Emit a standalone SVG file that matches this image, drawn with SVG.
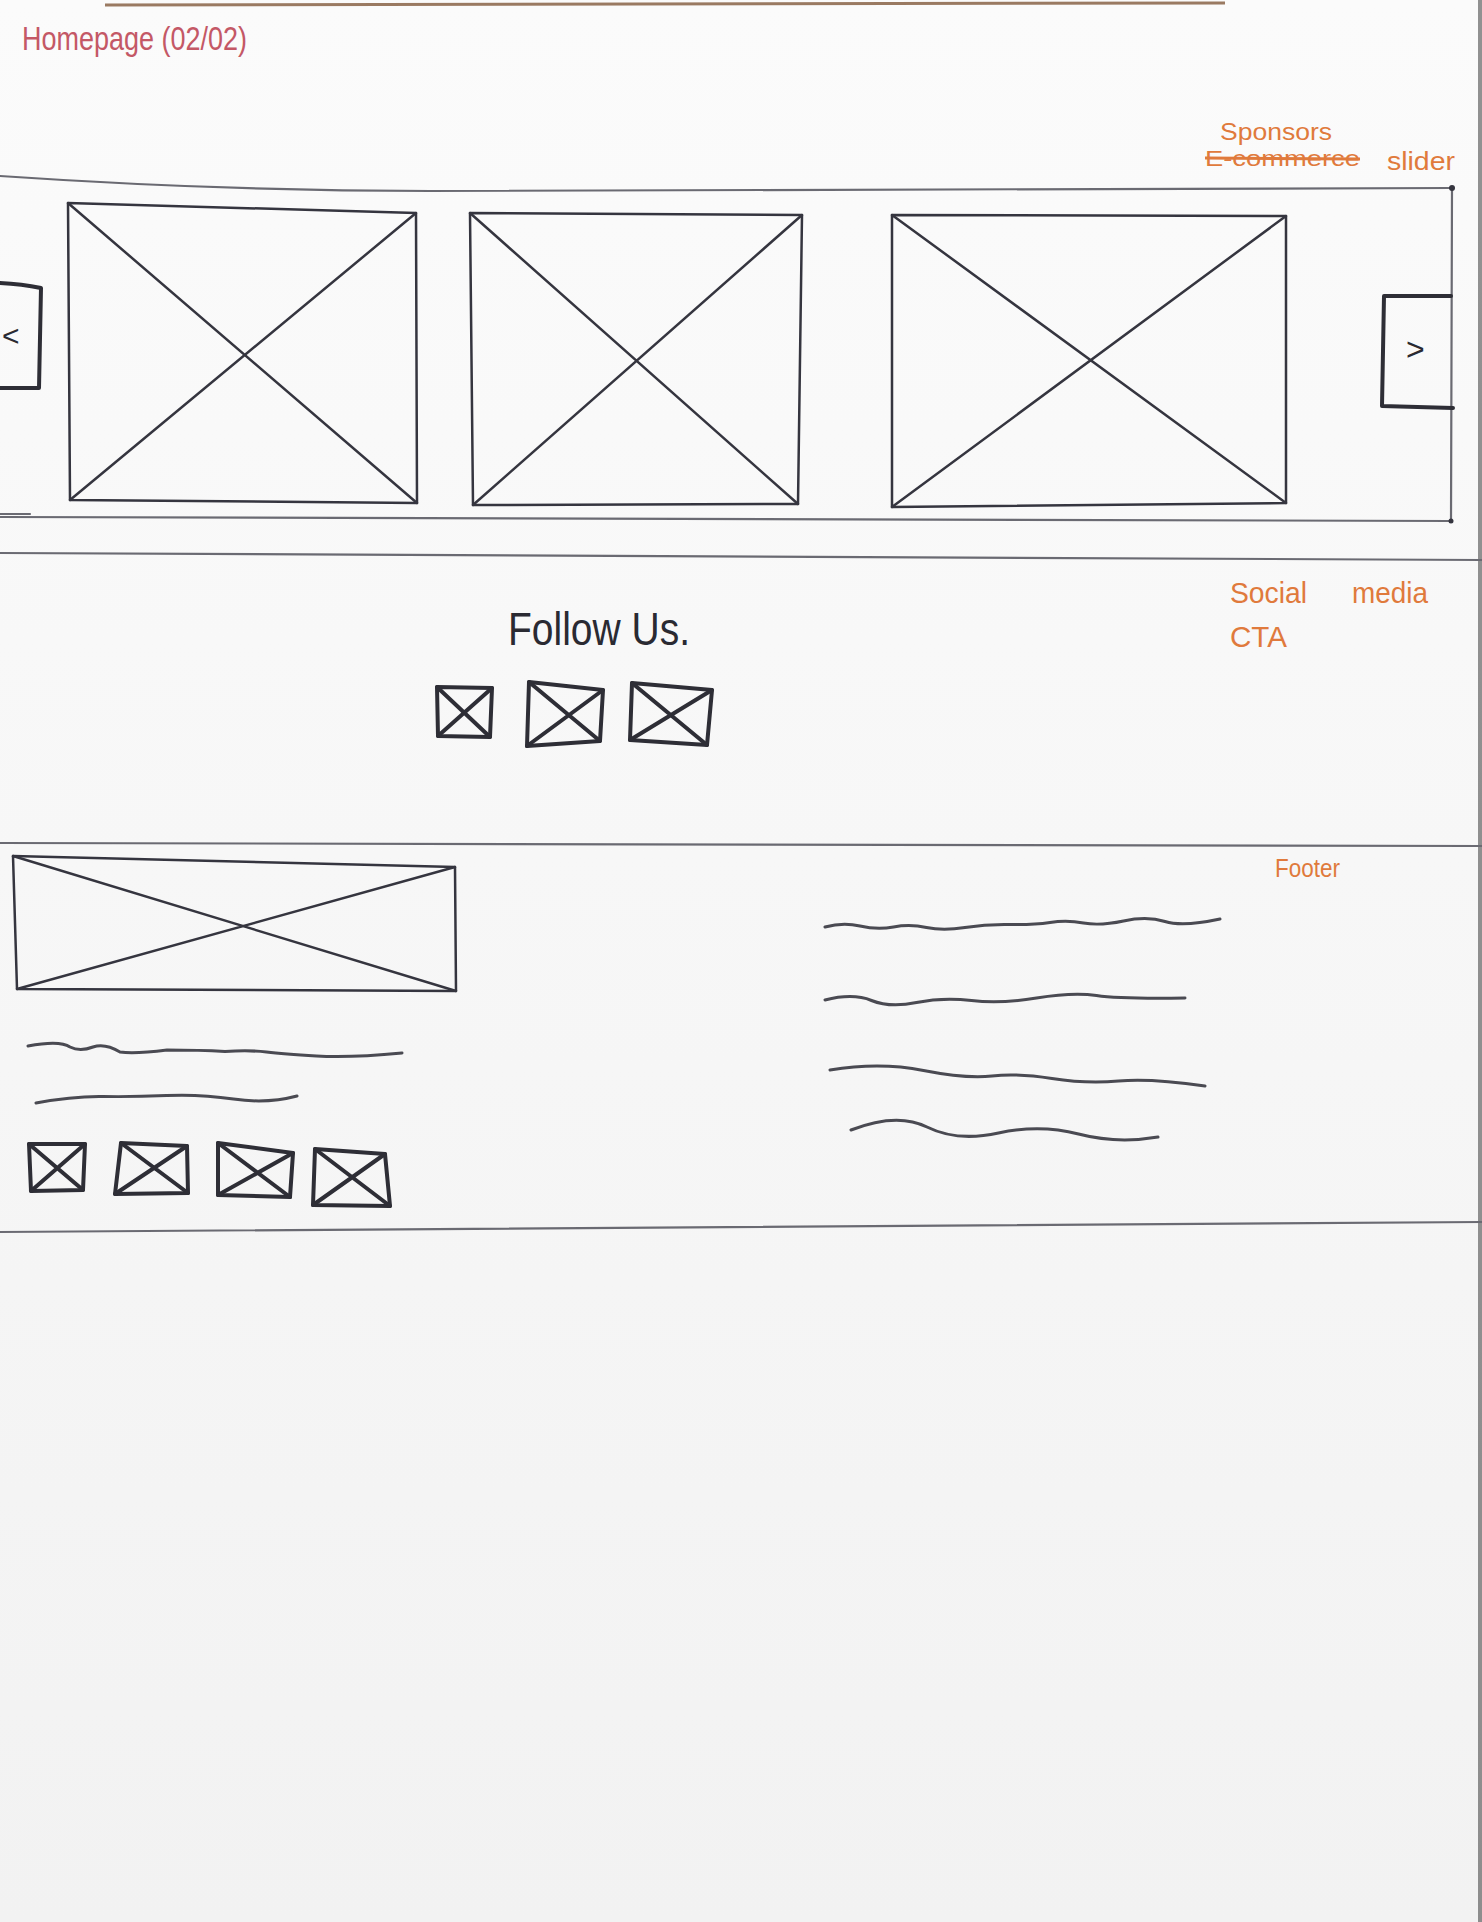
<svg xmlns="http://www.w3.org/2000/svg" width="1482" height="1922" viewBox="0 0 1482 1922">
<defs>
<linearGradient id="paper" x1="0" y1="0" x2="0" y2="1">
<stop offset="0" stop-color="#fbfbfb"/>
<stop offset="1" stop-color="#f2f2f2"/>
</linearGradient>
</defs>
<style>
.ph{fill:none;stroke:#35353f;stroke-width:2.5;stroke-linejoin:round;stroke-linecap:round}
.icon{fill:none;stroke:#2e2e36;stroke-width:4;stroke-linejoin:round;stroke-linecap:round}
.rule{fill:none;stroke:#6a6a72;stroke-width:2.2;stroke-linecap:round}
.wave{fill:none;stroke:#4a4a52;stroke-width:3;stroke-linecap:round;stroke-linejoin:round}
.note{font-family:"Liberation Sans",Arial,sans-serif;fill:#e07a3c}
.hand{font-family:"Liberation Sans",Arial,sans-serif;fill:#2a2a32}
</style>
<rect x="0" y="0" width="1482" height="1922" fill="url(#paper)"/>
<rect x="1478" y="0" width="4" height="1922" fill="#3a3a3a" opacity="0.55"/>
<line x1="105" y1="5" x2="1225" y2="3" stroke="#9a7a62" stroke-width="3"/>

<g id="title">
<text x="22" y="50" font-family="'Liberation Sans',Arial,sans-serif" font-size="34" fill="#c45866" textLength="225" lengthAdjust="spacingAndGlyphs">Homepage (02/02)</text>
</g>

<g id="frame">
<path class="rule" d="M0,176 Q220,191 430,191 L1452,188" stroke="#45454d"/>
<path class="rule" d="M1452,188 L1451,521" stroke="#45454d"/>
<path class="rule" d="M0,517 L1451,521" stroke="#45454d"/>
<path class="rule" d="M0,514 L30,514" stroke="#45454d"/>
<circle cx="1452" cy="188" r="3" fill="#35353f"/>
<circle cx="1451" cy="521" r="2.5" fill="#35353f"/>
<path class="rule" d="M0,553 L1482,560" stroke="#7a7a80"/>
<path class="rule" d="M0,843 L1482,846" stroke="#9a9aa0"/>
<path class="rule" d="M0,1232 L1482,1222" stroke="#55555c" stroke-width="2.6"/>
</g>

<g id="slider-label">
<text class="note" x="1220" y="140" font-size="24" textLength="112" lengthAdjust="spacingAndGlyphs">Sponsors</text>
<text class="note" x="1205" y="166" font-size="22" textLength="155" lengthAdjust="spacingAndGlyphs">E-commerce</text>
<line x1="1205" y1="158" x2="1360" y2="159" stroke="#e07a3c" stroke-width="3"/>
<text class="note" x="1387" y="170" font-size="26" textLength="68" lengthAdjust="spacingAndGlyphs">slider</text>
</g>

<g id="prev-button">
<path class="icon" stroke-width="3.5" d="M0,283 Q22,284 41,288 L39,388 L0,388"/>
<text class="hand" x="2" y="346" font-size="30">&lt;</text>
</g>

<g id="slide-1">
<polygon class="ph" points="68,203 416,213 417,503 70,500"/>
<path class="ph" d="M68,203 L417,503 M416,213 L70,500"/>
</g>
<g id="slide-2">
<polygon class="ph" points="470,213 802,215 798,504 473,505"/>
<path class="ph" d="M470,213 L798,504 M802,215 L473,505"/>
</g>
<g id="slide-3">
<polygon class="ph" points="892,215 1286,216 1286,503 892,507"/>
<path class="ph" d="M892,215 L1286,503 M1286,216 L892,507"/>
</g>

<g id="next-button">
<path class="icon" stroke-width="3" d="M1451,296 L1384,296 L1382,406 L1453,408"/>
<text class="hand" x="1406" y="360" font-size="32">&gt;</text>
</g>

<g id="social-label">
<text class="note" x="1230" y="603" font-size="30" textLength="77" lengthAdjust="spacingAndGlyphs">Social</text>
<text class="note" x="1352" y="603" font-size="30" textLength="76" lengthAdjust="spacingAndGlyphs">media</text>
<text class="note" x="1230" y="647" font-size="30" textLength="57" lengthAdjust="spacingAndGlyphs">CTA</text>
</g>

<g id="follow-us">
<text class="hand" x="508" y="645" font-size="46" textLength="182" lengthAdjust="spacingAndGlyphs">Follow Us.</text>
</g>

<g id="social-icon-1">
<polygon class="icon" points="437,687 492,688 490,737 438,736"/>
<path class="icon" d="M437,687 L490,737 M492,688 L438,736"/>
</g>
<g id="social-icon-2">
<polygon class="icon" points="529,682 603,690 600,741 527,746"/>
<path class="icon" d="M529,682 L600,741 M603,690 L527,746"/>
</g>
<g id="social-icon-3">
<polygon class="icon" points="632,683 712,690 707,745 630,740"/>
<path class="icon" d="M632,683 L707,745 M712,690 L630,740"/>
</g>

<g id="footer-label">
<text class="note" x="1275" y="877" font-size="26" fill="#e8844e" textLength="65" lengthAdjust="spacingAndGlyphs">Footer</text>
</g>

<g id="footer-logo">
<polygon class="ph" stroke-width="3" points="13,856 455,867 456,991 17,989"/>
<path class="ph" d="M13,856 L456,991 M455,867 L17,989"/>
</g>

<g id="footer-text-left">
<path class="wave" d="M28,1046 Q60,1040 70,1047 Q80,1052 93,1047 Q105,1043 120,1052 Q135,1054 167,1050 Q200,1050 225,1051.5 Q250,1050 266.5,1052 Q283,1054 316.5,1056 Q350,1058 402,1053"/>
<path class="wave" d="M36,1103 Q73,1096 103,1096.5 Q133,1097 166.5,1095.5 Q200,1094 233.5,1099 Q267,1104 297,1096"/>
</g>

<g id="footer-icon-1">
<polygon class="icon" points="29,1144 85,1144 83,1190 31,1191"/>
<path class="icon" d="M29,1144 L83,1190 M85,1144 L31,1191"/>
</g>
<g id="footer-icon-2">
<polygon class="icon" points="121,1143 187,1146 188,1193 115,1194"/>
<path class="icon" d="M121,1143 L188,1193 M187,1146 L115,1194"/>
</g>
<g id="footer-icon-3">
<polygon class="icon" points="218,1143 293,1153 290,1197 218,1195"/>
<path class="icon" d="M218,1143 L290,1197 M293,1153 L218,1195"/>
</g>
<g id="footer-icon-4">
<polygon class="icon" points="315,1149 385,1154 390,1206 313,1205"/>
<path class="icon" d="M315,1149 L390,1206 M385,1154 L313,1205"/>
</g>

<g id="footer-text-right">
<path class="wave" d="M825,927 Q843,922 860,926 Q877,930 893.5,927 Q910,924 926.5,927.5 Q943,931 965,927.5 Q987,924 1010,924.5 Q1033,925 1050,922.5 Q1067,920 1083.5,923 Q1100,926 1123.5,921 Q1147,916 1165,921.5 Q1183,927 1220,919"/>
<path class="wave" d="M825,1000 Q853,993 871.5,1000.5 Q890,1008 916.5,1002.5 Q943,997 971.5,1000.5 Q1000,1004 1036.5,998 Q1073,992 1096.5,995.5 Q1120,999 1185,998"/>
<path class="wave" d="M830,1070 Q880,1062 923.5,1070.5 Q967,1079 992,1076 Q1017,1073 1052,1078.5 Q1087,1084 1118.5,1081 Q1150,1078 1205,1086"/>
<path class="wave" d="M851,1130 Q897,1112 927,1127 Q957,1142 998.5,1133 Q1040,1124 1078.5,1134 Q1117,1144 1158,1137"/>
</g>
</svg>
